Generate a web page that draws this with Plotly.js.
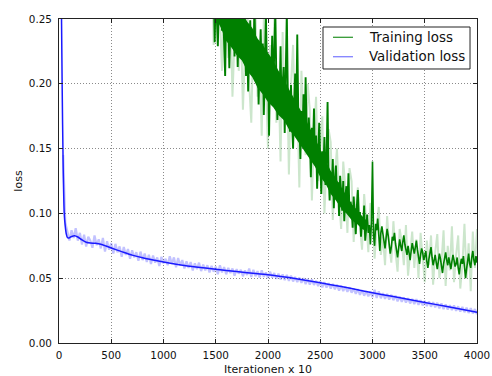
<!DOCTYPE html>
<html>
<head>
<meta charset="utf-8">
<script src="https://cdn.plot.ly/plotly-3.0.1.min.js"></script>
<style>
  html, body { margin: 0; padding: 0; background: #fff; }
  #chart { width: 492px; height: 376px; }
</style>
</head>
<body>
<div id="chart"></div>
<script>
// Loss curves logged every 10 iterations (x axis is iterations / 10).

// Validation loss, smoothed curve
const valSmoothIter = [0, 10, 20, 30, 40, 50, 60, 70, 80, 90, 100, 120, 150, 180, 220, 260, 300, 350, 400, 450,
  500, 600, 700, 800, 900, 1000, 1200, 1400, 1600, 1800, 2000, 2200, 2400, 2600, 2800, 3000, 3200, 3400, 3600, 3800, 4000];
const valSmooth = [0.600, 0.420, 0.290, 0.200, 0.135, 0.100, 0.090, 0.084, 0.0815, 0.0810, 0.0812, 0.0822, 0.0828, 0.0818, 0.0795, 0.0778, 0.0772, 0.0769, 0.0762, 0.0748,
  0.0733, 0.0705, 0.0678, 0.0657, 0.0640, 0.0625, 0.0598, 0.0578, 0.0560, 0.0542, 0.0527, 0.0505, 0.0478, 0.0450, 0.0420, 0.0388, 0.0358, 0.0328, 0.0298, 0.0268, 0.0238];

// Validation loss, raw values (every 20 steps from 40)
const valRawStart = 40, valRawStep = 20;
const valRaw = [
  0.1450, 0.0930, 0.0860, 0.0790, 0.0870, 0.0810, 0.0885, 0.0790, 0.0850, 0.0760,
  0.0835, 0.0745, 0.0820, 0.0790, 0.0735, 0.0830, 0.0755, 0.0800, 0.0730, 0.0810,
  0.0705, 0.0785, 0.0720, 0.0770, 0.0690, 0.0765, 0.0700, 0.0745, 0.0665, 0.0740,
  0.0680, 0.0725, 0.0650, 0.0715, 0.0660, 0.0700, 0.0635, 0.0705, 0.0640, 0.0690,
  0.0625, 0.0680, 0.0610, 0.0675, 0.0620, 0.0660, 0.0595, 0.0665, 0.0615, 0.0650,
  0.0600, 0.0670, 0.0610, 0.0660, 0.0585, 0.0655, 0.0600, 0.0640, 0.0575, 0.0630,
  0.0580, 0.0625, 0.0560, 0.0615, 0.0570, 0.0620, 0.0555, 0.0605, 0.0560, 0.0600,
  0.0545, 0.0595, 0.0550, 0.0590, 0.0530, 0.0600, 0.0545, 0.0585, 0.0530, 0.0580,
  0.0540, 0.0575, 0.0520, 0.0570, 0.0535, 0.0565, 0.0515, 0.0560, 0.0525, 0.0575,
  0.0510, 0.0565, 0.0515, 0.0555, 0.0505, 0.0560, 0.0510, 0.0545, 0.0500, 0.0550,
  0.0505, 0.0540, 0.0495, 0.0535, 0.0490, 0.0530, 0.0485, 0.0525, 0.0480, 0.0520,
  0.0475, 0.0510, 0.0470, 0.0505, 0.0465, 0.0500, 0.0455, 0.0495, 0.0450, 0.0490,
  0.0448, 0.0480, 0.0440, 0.0475, 0.0430, 0.0470, 0.0428, 0.0462, 0.0420, 0.0455,
  0.0415, 0.0450, 0.0405, 0.0442, 0.0400, 0.0435, 0.0395, 0.0430, 0.0388, 0.0420,
  0.0380, 0.0415, 0.0372, 0.0408, 0.0365, 0.0400, 0.0360, 0.0395, 0.0355, 0.0410,
  0.0348, 0.0398, 0.0345, 0.0385, 0.0340, 0.0378, 0.0335, 0.0372, 0.0330, 0.0365,
  0.0322, 0.0358, 0.0318, 0.0352, 0.0312, 0.0346, 0.0305, 0.0340, 0.0300, 0.0338,
  0.0295, 0.0330, 0.0290, 0.0325, 0.0285, 0.0320, 0.0280, 0.0315, 0.0275, 0.0310,
  0.0268, 0.0305, 0.0262, 0.0298, 0.0258, 0.0292, 0.0255, 0.0290, 0.0248, 0.0283,
  0.0242, 0.0278, 0.0238, 0.0272, 0.0232, 0.0268, 0.0228, 0.0262, 0.0222
];

// Training loss, lightly smoothed (every 10 steps from 1400)
const trainStart = 1400, trainStep = 10;
const trainLoss = [
  0.302, 0.288, 0.311, 0.279, 0.295, 0.284, 0.268, 0.291, 0.276, 0.232,
  0.271, 0.252, 0.229, 0.263, 0.248, 0.277, 0.241, 0.258, 0.236, 0.206,
  0.259, 0.238, 0.251, 0.212, 0.244, 0.268, 0.231, 0.249, 0.221, 0.262,
  0.251, 0.213, 0.246, 0.236, 0.265, 0.224, 0.243, 0.257, 0.229, 0.206,
  0.238, 0.194, 0.231, 0.249, 0.216, 0.236, 0.208, 0.261, 0.223, 0.232,
  0.226, 0.184, 0.219, 0.242, 0.203, 0.231, 0.176, 0.214, 0.253, 0.209,
  0.218, 0.160, 0.211, 0.199, 0.237, 0.194, 0.223, 0.256, 0.203, 0.172,
  0.205, 0.185, 0.229, 0.178, 0.198, 0.213, 0.162, 0.201, 0.255, 0.188,
  0.186, 0.163, 0.199, 0.171, 0.150, 0.184, 0.208, 0.169, 0.238, 0.176,
  0.171, 0.142, 0.179, 0.160, 0.192, 0.155, 0.205, 0.163, 0.147, 0.174,
  0.158, 0.128, 0.166, 0.149, 0.181, 0.143, 0.160, 0.119, 0.152, 0.170,
  0.141, 0.115, 0.148, 0.134, 0.159, 0.122, 0.139, 0.186, 0.129, 0.110,
  0.131, 0.118, 0.142, 0.104, 0.126, 0.137, 0.113, 0.124, 0.098, 0.129,
  0.116, 0.102, 0.125, 0.094, 0.113, 0.121, 0.106, 0.131, 0.100, 0.109,
  0.104, 0.089, 0.113, 0.097, 0.084, 0.105, 0.118, 0.094, 0.101, 0.082,
  0.096, 0.088, 0.106, 0.079, 0.093, 0.099, 0.085, 0.091, 0.076, 0.094,
  0.140, 0.083, 0.075, 0.092, 0.087, 0.096, 0.081, 0.071, 0.085, 0.090,
  0.084, 0.079, 0.073, 0.081, 0.088, 0.083, 0.076, 0.069, 0.074, 0.082,
  0.079, 0.085, 0.077, 0.070, 0.066, 0.073, 0.080, 0.075, 0.071, 0.078,
  0.083, 0.076, 0.072, 0.068, 0.075, 0.070, 0.064, 0.071, 0.077, 0.073,
  0.069, 0.074, 0.079, 0.072, 0.066, 0.061, 0.068, 0.073, 0.070, 0.064,
  0.067, 0.071, 0.063, 0.058, 0.065, 0.069, 0.074, 0.066, 0.060, 0.064,
  0.068, 0.062, 0.057, 0.063, 0.069, 0.065, 0.059, 0.054, 0.061, 0.066,
  0.070, 0.064, 0.060, 0.066, 0.062, 0.057, 0.063, 0.068, 0.064, 0.059,
  0.061, 0.066, 0.058, 0.053, 0.060, 0.065, 0.061, 0.067, 0.059, 0.050,
  0.057, 0.063, 0.069, 0.061, 0.058, 0.066, 0.071, 0.064, 0.060, 0.067,
  0.062
];
// index where the noisy phase gives way to the calmer tail (iteration 2950)
const trainSplit = 155;

// Dense core of the smoothed training curve (every 50 steps from 1400)
const trainCoreStart = 1400, trainCoreStep = 50;
const trainCoreLow = [
  0.272, 0.262, 0.251, 0.243, 0.233, 0.228, 0.222, 0.218, 0.210, 0.205,
  0.197, 0.192, 0.186, 0.182, 0.176, 0.172, 0.165, 0.160, 0.154, 0.149,
  0.142, 0.136, 0.128, 0.123, 0.115, 0.110, 0.104, 0.100, 0.095, 0.092,
  0.088, 0.086
];
const trainCoreHigh = [
  0.315, 0.300, 0.285, 0.275, 0.265, 0.262, 0.258, 0.255, 0.248, 0.243,
  0.235, 0.230, 0.224, 0.218, 0.210, 0.204, 0.196, 0.189, 0.181, 0.174,
  0.166, 0.158, 0.149, 0.142, 0.133, 0.127, 0.120, 0.114, 0.107, 0.103,
  0.098, 0.094
];

// Training loss, raw values (every 20 steps from 1400)
const trainRawStart = 1400, trainRawStep = 20;
const trainRaw = [
  0.320, 0.290, 0.260, 0.310, 0.230, 0.280, 0.300, 0.250, 0.210, 0.270,
  0.300, 0.220, 0.260, 0.190, 0.240, 0.280, 0.210, 0.250, 0.180, 0.230,
  0.270, 0.200, 0.170, 0.240, 0.260, 0.190, 0.220, 0.160, 0.250, 0.200,
  0.150, 0.230, 0.190, 0.250, 0.170, 0.210, 0.140, 0.240, 0.180, 0.220,
  0.130, 0.200, 0.230, 0.160, 0.190, 0.120, 0.210, 0.170, 0.145, 0.200,
  0.180, 0.110, 0.160, 0.190, 0.125, 0.150, 0.175, 0.100, 0.140, 0.165,
  0.155, 0.095, 0.130, 0.150, 0.110, 0.088, 0.140, 0.120, 0.085, 0.135,
  0.125, 0.078, 0.105, 0.120, 0.090, 0.072, 0.115, 0.095, 0.070, 0.108,
  0.100, 0.065, 0.090, 0.105, 0.068, 0.082, 0.060, 0.098, 0.075, 0.062,
  0.094, 0.070, 0.055, 0.088, 0.078, 0.060, 0.091, 0.052, 0.072, 0.086,
  0.058, 0.080, 0.050, 0.085, 0.066, 0.047, 0.079, 0.060, 0.083, 0.045,
  0.070, 0.084, 0.050, 0.062, 0.087, 0.044, 0.075, 0.056, 0.090, 0.047,
  0.068, 0.083, 0.042, 0.060, 0.092, 0.050, 0.077, 0.040, 0.086, 0.058,
  0.088
];

// Legend entries
const seriesNames = ['Training loss', 'Validation loss'];
const legendColors = ['rgba(0,128,0,0.8)', 'rgba(0,0,255,0.5)'];

const iters = (start, step, arr) => arr.map((_, i) => start + step * i);

const FONT = 'DejaVu Sans, Verdana, sans-serif';
const GREEN = '#008000';

const trainIters = iters(trainStart, trainStep, trainLoss);

const traces = [
  {
    x: iters(trainRawStart, trainRawStep, trainRaw), y: trainRaw,
    mode: 'lines', line: { color: 'rgba(0,128,0,0.2)', width: 2 },
    showlegend: false, hoverinfo: 'skip'
  },
  {
    x: iters(trainCoreStart, trainCoreStep, trainCoreLow), y: trainCoreLow,
    mode: 'lines', line: { width: 0, color: GREEN },
    showlegend: false, hoverinfo: 'skip'
  },
  {
    x: iters(trainCoreStart, trainCoreStep, trainCoreHigh), y: trainCoreHigh,
    mode: 'lines', line: { width: 0, color: GREEN },
    fill: 'tonexty', fillcolor: GREEN,
    showlegend: false, hoverinfo: 'skip'
  },
  {
    x: trainIters.slice(0, trainSplit + 1), y: trainLoss.slice(0, trainSplit + 1),
    mode: 'lines', line: { color: GREEN, width: 1.9 },
    showlegend: false
  },
  {
    x: trainIters.slice(trainSplit), y: trainLoss.slice(trainSplit),
    mode: 'lines', line: { color: GREEN, width: 1.6 },
    showlegend: false
  },
  {
    x: iters(valRawStart, valRawStep, valRaw), y: valRaw,
    mode: 'lines', line: { color: 'rgba(0,0,255,0.24)', width: 2.2 },
    showlegend: false, hoverinfo: 'skip'
  },
  {
    x: valSmoothIter, y: valSmooth,
    mode: 'lines', line: { color: '#1a1aff', width: 1.5, shape: 'spline', smoothing: 0.6 },
    showlegend: false
  }
];

const axisCommon = {
  showline: true, linecolor: '#222', linewidth: 1, mirror: 'allticks',
  ticks: 'inside', ticklen: 4, tickcolor: '#222', tickwidth: 1,
  showgrid: true, gridcolor: '#8a8a8a', gridwidth: 1, griddash: '1px,2px',
  zeroline: false,
  tickfont: { family: FONT, size: 10.4, color: '#111' }
};

// Legend box drawn in paper coordinates
const legendBox = { x0: 0.6316, x1: 0.9833, y0: 0.8457, y1: 0.9753 };
const legendRows = [0.9435, 0.8836];
const legendLineX = [0.6555, 0.7033];
const legendTextX = 0.7361;

const shapes = [
  {
    type: 'rect', xref: 'paper', yref: 'paper',
    x0: legendBox.x0, x1: legendBox.x1, y0: legendBox.y0, y1: legendBox.y1,
    line: { color: '#222', width: 1 }, fillcolor: '#fff', layer: 'above'
  }
].concat(seriesNames.map((_, i) => ({
  type: 'line', xref: 'paper', yref: 'paper',
  x0: legendLineX[0], x1: legendLineX[1], y0: legendRows[i], y1: legendRows[i],
  line: { color: legendColors[i], width: 1.3 }, layer: 'above'
})));

const annotations = seriesNames.map((name, i) => ({
  xref: 'paper', yref: 'paper', x: legendTextX, y: legendRows[i],
  xanchor: 'left', yanchor: 'middle', showarrow: false,
  text: name, font: { family: FONT, size: 13.4, color: '#111' }
}));

const layout = {
  width: 492, height: 376,
  margin: { l: 59, r: 15, t: 19, b: 33 },
  paper_bgcolor: '#fff', plot_bgcolor: '#fff',
  font: { family: FONT, color: '#111' },
  showlegend: false,
  xaxis: Object.assign({}, axisCommon, {
    range: [0, 4000], tickmode: 'array',
    tickvals: [0, 500, 1000, 1500, 2000, 2500, 3000, 3500, 4000],
    ticklabelstandoff: 3,
    title: { text: 'Iterationen x 10', font: { family: FONT, size: 11, color: '#111' }, standoff: 5 }
  }),
  yaxis: Object.assign({}, axisCommon, {
    range: [0, 0.25], tickmode: 'array',
    tickvals: [0, 0.05, 0.10, 0.15, 0.20, 0.25], tickformat: '.2f',
    ticklabelstandoff: 4,
    title: { text: 'loss', font: { family: FONT, size: 11, color: '#111' }, standoff: 3 }
  }),
  shapes: shapes,
  annotations: annotations
};

Plotly.newPlot('chart', traces, layout, { staticPlot: true, displayModeBar: false });
</script>
</body>
</html>
